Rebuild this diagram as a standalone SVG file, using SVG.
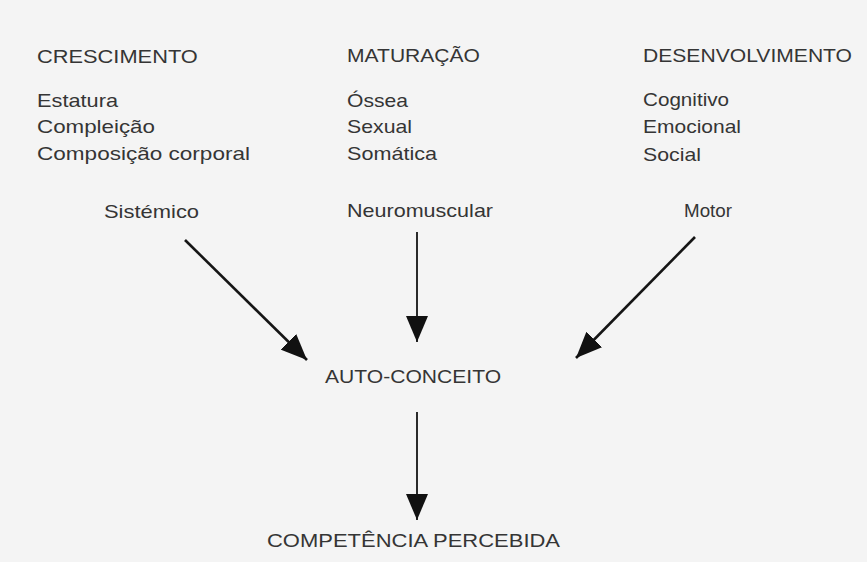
<svg xmlns="http://www.w3.org/2000/svg" width="867" height="562" viewBox="0 0 867 562">
  <style>
    .t { font-family: "Liberation Sans", Arial, sans-serif; font-size: 18px; fill: #353535; }
    .c { stroke: #151515; fill: none; }
    .thick { stroke-width: 2.6; }
    .thin { stroke-width: 1.8; }
  </style>
  <defs>
    <marker id="ah" viewBox="0 0 26 22" refX="26" refY="11" markerWidth="26" markerHeight="22" markerUnits="userSpaceOnUse" orient="auto">
      <path d="M0,0 L26,11 L0,22 Z" fill="#111"/>
    </marker>
  </defs>
  <rect width="867" height="562" fill="#f4f4f4"/>

  <g id="crescimento">
    <text class="t" transform="matrix(1.2 0 0 1 37 63)" textLength="134" lengthAdjust="spacingAndGlyphs">CRESCIMENTO</text>
    <text class="t" transform="matrix(1.2 0 0 1 37 107)" textLength="67.5" lengthAdjust="spacingAndGlyphs">Estatura</text>
    <text class="t" transform="matrix(1.2 0 0 1 37 133)" textLength="98.3" lengthAdjust="spacingAndGlyphs">Compleição</text>
    <text class="t" transform="matrix(1.2 0 0 1 37 160)" textLength="177.5" lengthAdjust="spacingAndGlyphs">Composição corporal</text>
  </g>
  <g id="maturacao">
    <text class="t" transform="matrix(1.2 0 0 1 347 62)" textLength="110.8" lengthAdjust="spacingAndGlyphs">MATURAÇÃO</text>
    <text class="t" transform="matrix(1.2 0 0 1 347 107)" textLength="50.8" lengthAdjust="spacingAndGlyphs">Óssea</text>
    <text class="t" transform="matrix(1.2 0 0 1 347 133)" textLength="54.2" lengthAdjust="spacingAndGlyphs">Sexual</text>
    <text class="t" transform="matrix(1.2 0 0 1 347 160)" textLength="75" lengthAdjust="spacingAndGlyphs">Somática</text>
  </g>
  <g id="desenvolvimento">
    <text class="t" transform="matrix(1.2 0 0 1 643 62)" textLength="174.2" lengthAdjust="spacingAndGlyphs">DESENVOLVIMENTO</text>
    <text class="t" transform="matrix(1.2 0 0 1 643 106)" textLength="71.7" lengthAdjust="spacingAndGlyphs">Cognitivo</text>
    <text class="t" transform="matrix(1.2 0 0 1 643 133)" textLength="81.7" lengthAdjust="spacingAndGlyphs">Emocional</text>
    <text class="t" transform="matrix(1.2 0 0 1 643 161)" textLength="48.3" lengthAdjust="spacingAndGlyphs">Social</text>
  </g>
  <g id="sistemico">
    <text class="t" transform="matrix(1.2 0 0 1 104 218)" textLength="79.2" lengthAdjust="spacingAndGlyphs">Sistémico</text>
  </g>
  <g id="neuromuscular">
    <text class="t" transform="matrix(1.2 0 0 1 347 217)" textLength="121.7" lengthAdjust="spacingAndGlyphs">Neuromuscular</text>
  </g>
  <g id="motor">
    <text class="t" transform="matrix(1.2 0 0 1 684 217)" textLength="40" lengthAdjust="spacingAndGlyphs">Motor</text>
  </g>
  <g id="auto-conceito">
    <text class="t" transform="matrix(1.2 0 0 1 325 383)" textLength="146.7" lengthAdjust="spacingAndGlyphs">AUTO-CONCEITO</text>
  </g>
  <g id="competencia-percebida">
    <text class="t" transform="matrix(1.2 0 0 1 267 547)" textLength="244.2" lengthAdjust="spacingAndGlyphs">COMPETÊNCIA PERCEBIDA</text>
  </g>

  <g id="connectors">
    <line class="c thick" x1="185" y1="240" x2="307" y2="360" marker-end="url(#ah)"/>
    <line class="c thin" x1="417" y1="232" x2="417" y2="342" marker-end="url(#ah)"/>
    <line class="c thick" x1="695" y1="237" x2="576" y2="358" marker-end="url(#ah)"/>
    <line class="c thin" x1="417" y1="412" x2="417" y2="520" marker-end="url(#ah)"/>
  </g>
</svg>
